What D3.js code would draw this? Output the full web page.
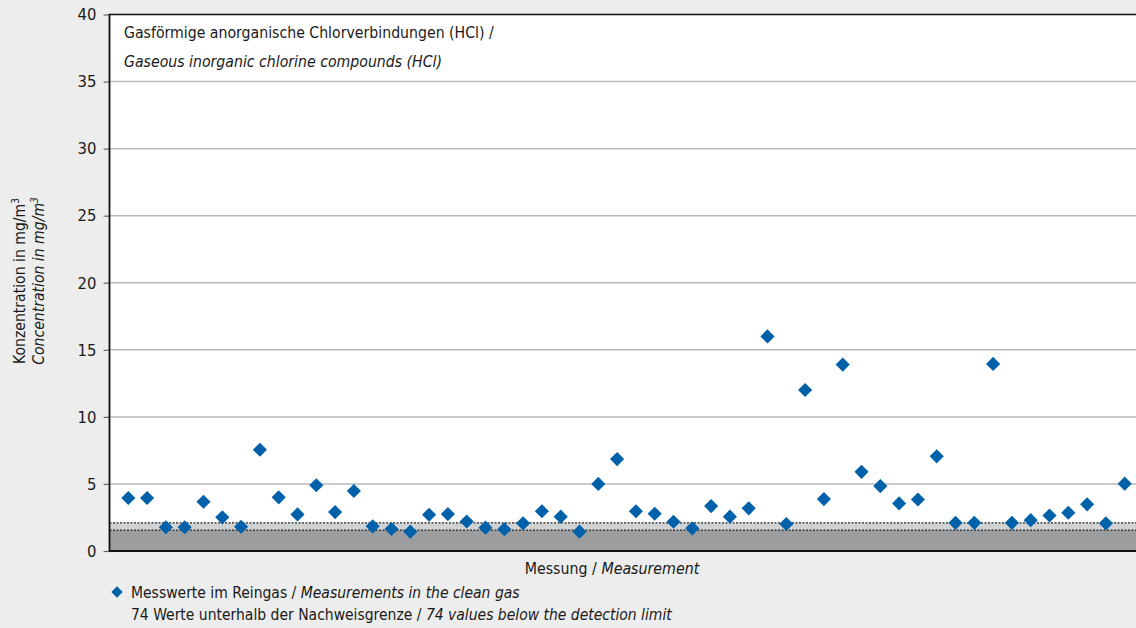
<!DOCTYPE html>
<html>
<head>
<meta charset="utf-8">
<script src="https://cdn.jsdelivr.net/npm/d3@7"></script>
<style>
  html, body { margin: 0; padding: 0; background: #ecedec; }
  svg { display: block; }
  text { font-family: "Liberation Sans Narrow", "DejaVu Sans Condensed", "Roboto", sans-serif; fill: #1a1a1a; }
  .it { font-style: italic; }
</style>
</head>
<body>
<svg id="chart" width="1136" height="628"></svg>
<script>
// measurement values (mg/m3), one per measurement
const values = [
  3.95, 3.95, 1.77, 1.77, 3.67, 2.51, 1.81, 7.55, 4.0, 2.73,
  4.9, 2.9, 4.47, 1.84, 1.64, 1.44, 2.7, 2.75, 2.2, 1.74,
  1.62, 2.06, 2.96, 2.56, 1.44, 5.0, 6.85, 2.96, 2.78, 2.18,
  1.69, 3.35, 2.56, 3.18, 16.0, 2.01, 12.0, 3.87, 13.9, 5.9,
  4.84, 3.55, 3.84, 7.06, 2.1, 2.1, 13.95, 2.1, 2.3, 2.65,
  2.85, 3.48, 2.06, 5.02
];
const yTicks = [0, 5, 10, 15, 20, 25, 30, 35, 40];
const limitLow = 1.56;   // dark band top
const limitHigh = 2.1;   // light band top
const titleLines = ["Gasförmige anorganische Chlorverbindungen (HCl) /", "Gaseous inorganic chlorine compounds (HCl)"];
const yLabelLines = ["Konzentration in mg/m", "Concentration in mg/m"];
const xLabel = ["Messung / ", "Measurement"];
const legendLine1 = ["Messwerte im Reingas / ", "Measurements in the clean gas"];
const legendLine2 = ["74 Werte unterhalb der Nachweisgrenze / ", "74 values below the detection limit"];

const svg = d3.select("#chart");
const plotL = 109.5, plotR = 1136, plotT = 14.5, plotB = 551;

const x = d3.scaleLinear().domain([0, 54.6]).range([plotL, plotR]);
const y = d3.scaleLinear().domain([0, 40]).range([plotB, plotT]);

// plot background
svg.append("rect")
  .attr("x", plotL).attr("y", plotT)
  .attr("width", plotR - plotL).attr("height", plotB - plotT)
  .attr("fill", "#fff");

// detection limit bands
svg.append("rect")
  .attr("x", plotL).attr("y", y(limitHigh))
  .attr("width", plotR - plotL).attr("height", y(limitLow) - y(limitHigh))
  .attr("fill", "#d1d2d4");
svg.append("rect")
  .attr("x", plotL).attr("y", y(limitLow))
  .attr("width", plotR - plotL).attr("height", plotB - y(limitLow))
  .attr("fill", "#9c9d9f");
[limitHigh, limitLow].forEach(v => {
  svg.append("line")
    .attr("x1", plotL).attr("x2", plotR)
    .attr("y1", y(v)).attr("y2", y(v))
    .attr("stroke", "#222").attr("stroke-width", 1.2)
    .attr("stroke-dasharray", "2,1.5");
});

// gridlines
svg.append("g")
  .selectAll("line")
  .data(yTicks.filter(t => t > 0 && t < 40))
  .enter().append("line")
  .attr("x1", plotL).attr("x2", plotR)
  .attr("y1", d => y(d)).attr("y2", d => y(d))
  .attr("stroke", "#b9b9b9").attr("stroke-width", 1.5);

// y axis
const yAxis = svg.append("g")
  .attr("transform", `translate(${plotL},0)`)
  .call(d3.axisLeft(y).tickValues(yTicks).tickSize(6).tickPadding(7));
yAxis.select(".domain").remove();
yAxis.selectAll(".tick line").attr("stroke", "#666").attr("stroke-width", 1.2);
yAxis.selectAll(".tick text")
  .attr("font-size", 16.5)
  .attr("fill", "#1a1a1a")
  .style("font-family", '"Liberation Sans Narrow", "DejaVu Sans Condensed", sans-serif');

// frame lines
svg.append("line").attr("x1", plotL).attr("x2", plotR).attr("y1", plotT).attr("y2", plotT)
  .attr("stroke", "#111").attr("stroke-width", 1.6);
svg.append("line").attr("x1", plotL).attr("x2", plotR).attr("y1", plotB).attr("y2", plotB)
  .attr("stroke", "#111").attr("stroke-width", 2);
svg.append("line").attr("x1", plotL).attr("x2", plotL).attr("y1", plotT - 0.8).attr("y2", plotB + 1)
  .attr("stroke", "#111").attr("stroke-width", 1.8);

// points
const diamond = d3.symbol().type(d3.symbolSquare).size(100);
svg.append("g")
  .selectAll("path")
  .data(values)
  .enter().append("path")
  .attr("d", diamond)
  .attr("transform", (d, i) => `translate(${x(i + 1)},${y(d)}) rotate(45)`)
  .attr("fill", "#0061ab");

// title
svg.append("text").attr("x", 124).attr("y", 38).attr("font-size", 15.7).text(titleLines[0]);
svg.append("text").attr("x", 124).attr("y", 67).attr("font-size", 15.7).attr("class", "it").text(titleLines[1]);

// y label
const yl = svg.append("g").attr("transform", "translate(0,281) rotate(-90)");
const yl1 = yl.append("text").attr("x", 0).attr("y", 25).attr("text-anchor", "middle").attr("font-size", 15.6);
yl1.append("tspan").text(yLabelLines[0]);
yl1.append("tspan").attr("dy", -6).attr("font-size", 10).text("3");
const yl2 = yl.append("text").attr("x", 0).attr("y", 44).attr("text-anchor", "middle").attr("font-size", 15.6).attr("class", "it");
yl2.append("tspan").text(yLabelLines[1]);
yl2.append("tspan").attr("dy", -6).attr("font-size", 10).text("3");

// x label
const xl = svg.append("text").attr("x", 612).attr("y", 574).attr("text-anchor", "middle").attr("font-size", 15.8);
xl.append("tspan").text(xLabel[0]);
xl.append("tspan").attr("class", "it").text(xLabel[1]);

// legend
svg.append("path")
  .attr("d", d3.symbol().type(d3.symbolSquare).size(64))
  .attr("transform", "translate(117,592) rotate(45)")
  .attr("fill", "#0061ab");
const lg1 = svg.append("text").attr("x", 131).attr("y", 598).attr("font-size", 15.5);
lg1.append("tspan").text(legendLine1[0]);
lg1.append("tspan").attr("class", "it").text(legendLine1[1]);
const lg2 = svg.append("text").attr("x", 131).attr("y", 620).attr("font-size", 15.5);
lg2.append("tspan").text(legendLine2[0]);
lg2.append("tspan").attr("class", "it").text(legendLine2[1]);
</script>
</body>
</html>
